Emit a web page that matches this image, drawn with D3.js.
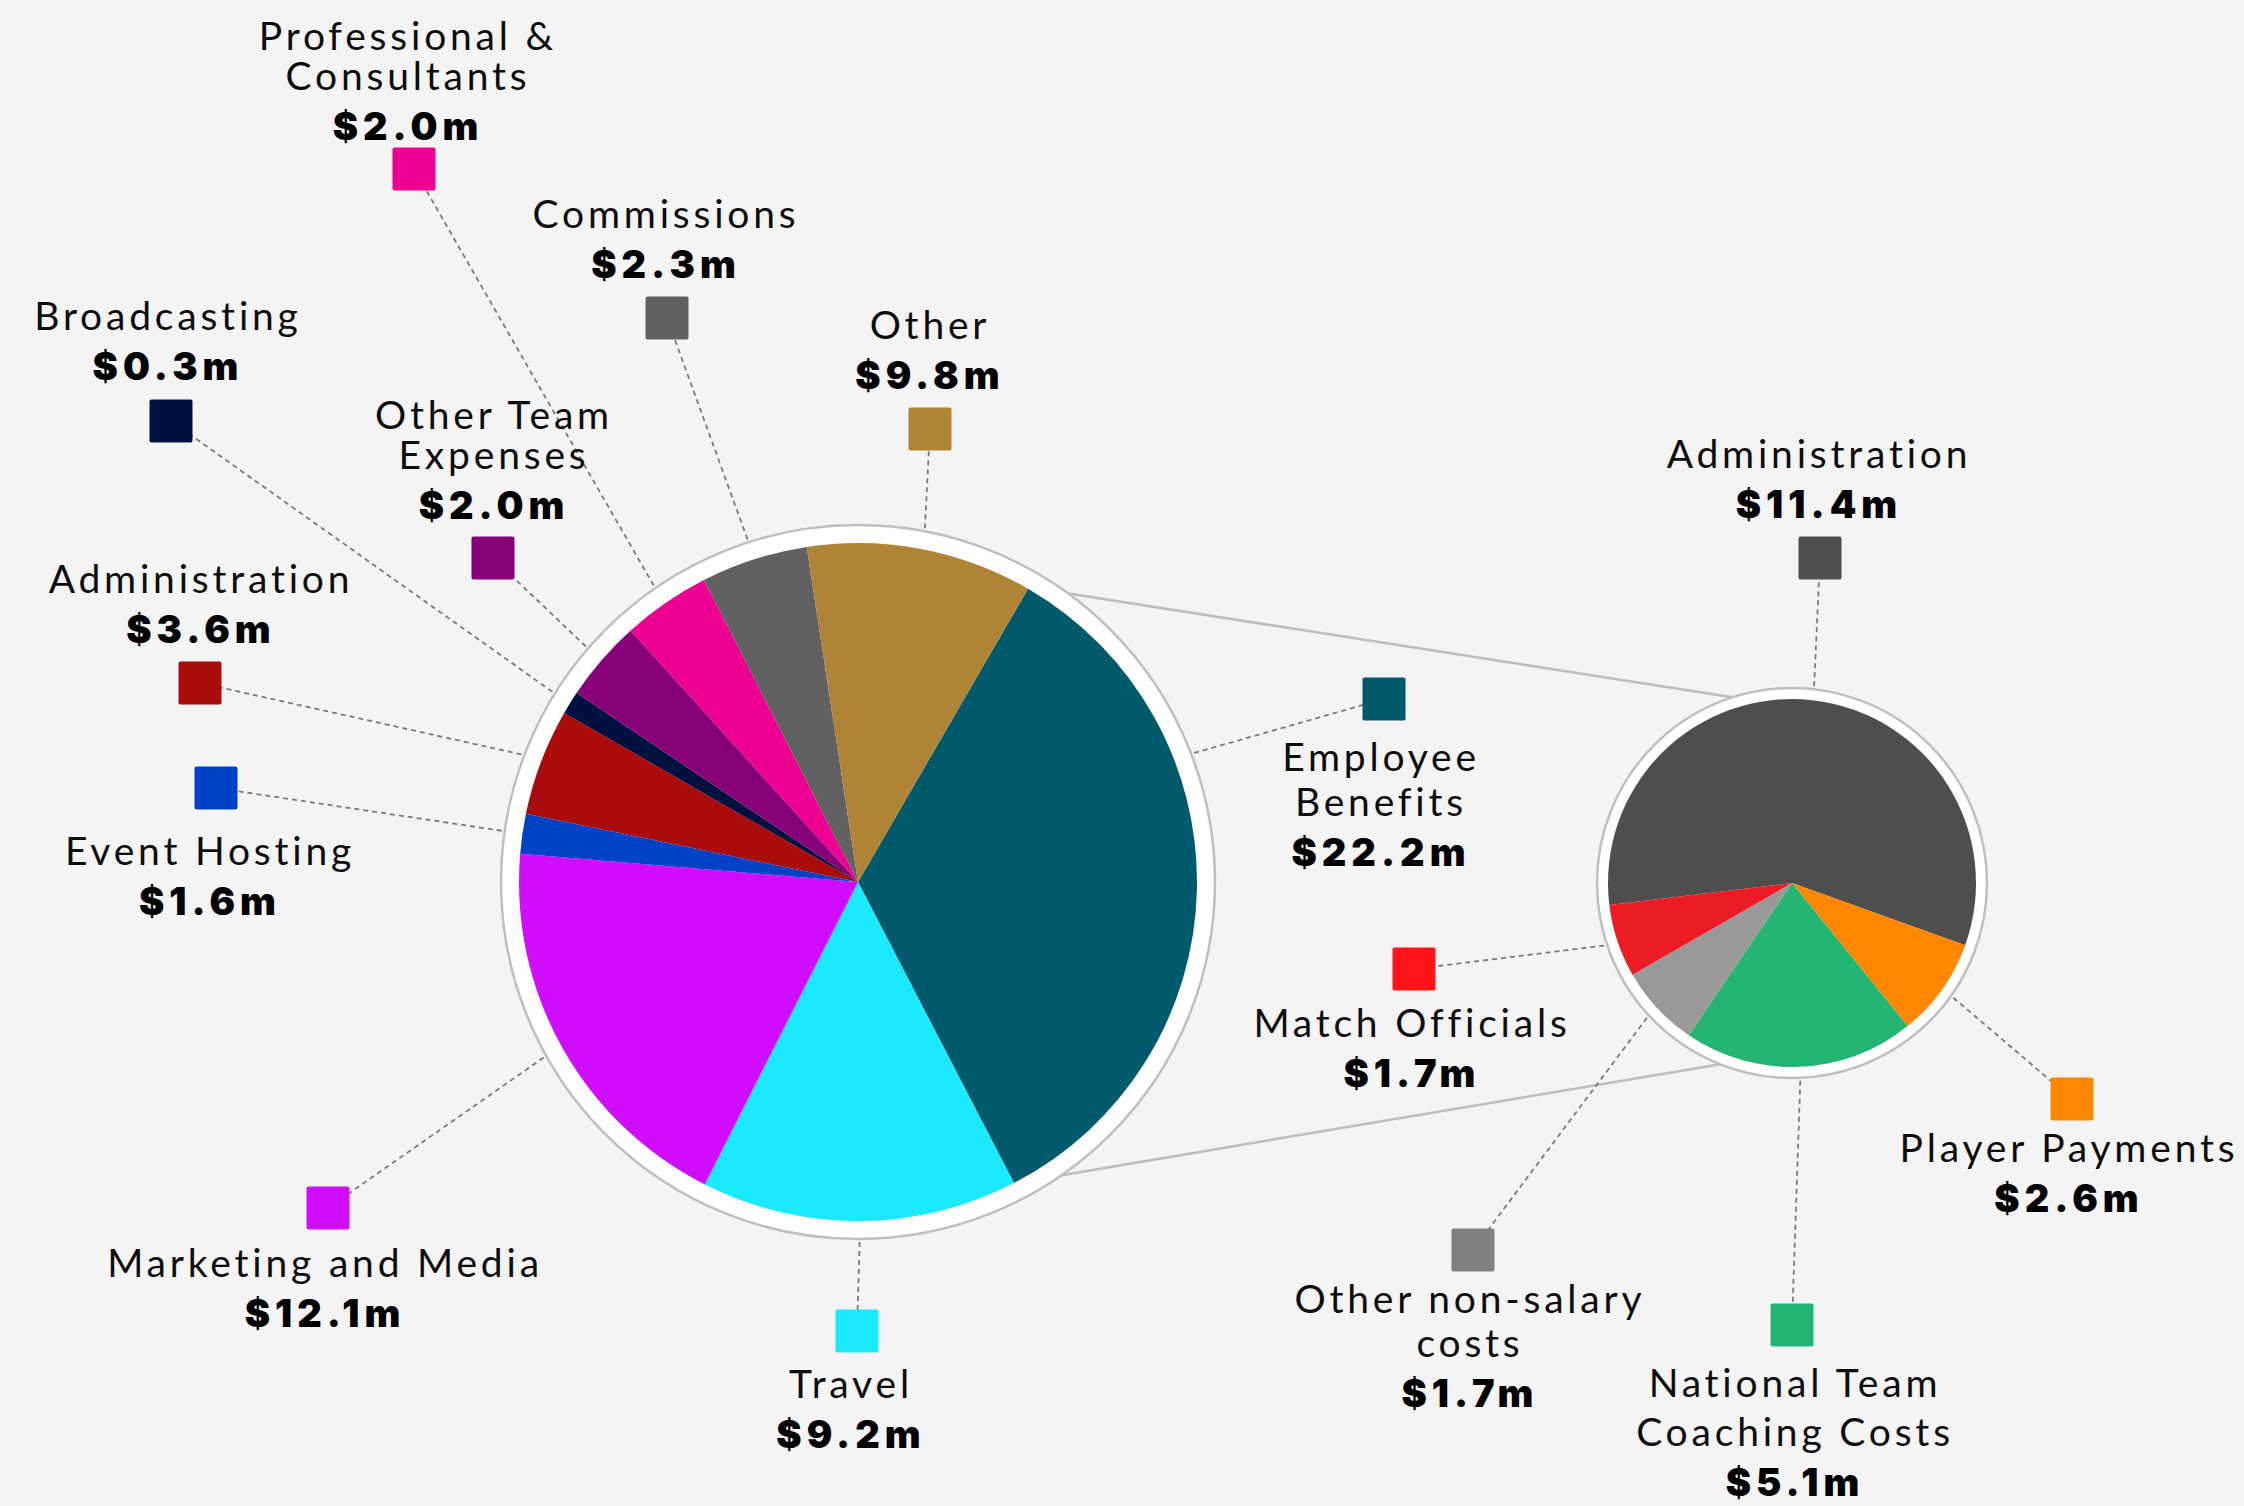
<!DOCTYPE html>
<html>
<head>
<meta charset="utf-8">
<title>Expenditure breakdown</title>
<script src="https://cdn.jsdelivr.net/npm/d3@7"></script>
<style>
    body { margin: 0; background: #f4f4f4; }
    svg { display: block; }
    .name { font-family: Lato, 'Open Sans', sans-serif; font-size: 39px; letter-spacing: 3.8px; fill: #0d0d0d; }
    .amount { font-family: Inter, Lato, sans-serif; font-weight: 900; font-size: 38px; letter-spacing: 5px; fill: #000; }
</style>
</head>
<body>
<svg id="chart" width="2244" height="1506"></svg>
<script>
// Main pie, clockwise from the Employee Benefits slice
const mainCategories = ['Employee Benefits', 'Travel', 'Marketing and Media', 'Event Hosting', 'Administration',
    'Broadcasting', 'Other Team Expenses', 'Professional & Consultants', 'Commissions', 'Other'];
const mainAmounts = [22.2, 9.2, 12.1, 1.6, 3.6, 0.3, 2.0, 2.0, 2.3, 9.8];
// share of the circle (%) each slice takes, as drawn in the original
const mainShares = [34.1, 15.1, 18.9, 1.9, 5.1, 1.1, 3.9, 4.2, 5.1, 10.8];

// Breakdown pie, clockwise from Administration
const detailCategories = ['Administration', 'Player Payments', 'National Team Coaching Costs',
    'Other non-salary costs', 'Match Officials'];
const detailAmounts = [11.4, 2.6, 5.1, 1.7, 1.7];
const detailShares = [57.4, 8.7, 20.3, 7.2, 6.4];

// Colours
const mainColours = ['#015a6b', '#1ae9fe', '#d10dfe', '#0042c6', '#aa0b0b', '#001140', '#880077', '#ed0091', '#616161', '#b08437'];
const detailColours = ['#4e4e4e', '#ff8800', '#24b574', '#999999', '#ec1c24'];
const detailSwatchColours = ['#4e4e4e', '#ff8800', '#24b574', '#808080', '#ff1418'];

// Label placement: text centre x, first baseline y, line height, swatch centre, words on first line
const mainLayout = [
    { x: 1381, y: 771, lh: 45, br: 1, sx: 1384, sy: 699, angle: 69 },
    { x: 851, y: 1398, sx: 857, sy: 1331 },
    { x: 325, y: 1277, sx: 328, sy: 1208 },
    { x: 210, y: 865, sx: 216, sy: 788 },
    { x: 201, y: 593, sx: 200, sy: 683 },
    { x: 168, y: 330, sx: 171, sy: 421 },
    { x: 494, y: 429, lh: 40, br: 2, sx: 493, sy: 558 },
    { x: 408, y: 50, lh: 40, br: 2, sx: 414, sy: 169 },
    { x: 666, y: 228, sx: 667, sy: 318 },
    { x: 930, y: 339, sx: 930, sy: 429 },
];
const detailLayout = [
    { x: 1819, y: 468, sx: 1820, sy: 558 },
    { x: 2069, y: 1162, sx: 2072, sy: 1099 },
    { x: 1795, y: 1397, lh: 49, br: 2, sx: 1792, sy: 1325 },
    { x: 1470, y: 1313, lh: 44, br: 2, sx: 1473, sy: 1250 },
    { x: 1412, y: 1037, sx: 1414, sy: 969 },
];

// Where the grey connectors leave each ring (degrees clockwise from 12 o'clock)
const connectorAngles = [[36.1, -17.8], [145.2, 201.6]];

const rad = deg => deg * Math.PI / 180;

class ExpenseBreakdown {

    constructor() {
        this.svg = d3.select('#chart');

        // Pie geometry
        this.main = { cx: 858, cy: 882, r: 339, ring: 357, start: rad(30.1) };
        this.detail = { cx: 1792, cy: 883, r: 184, ring: 195, start: rad(-96.9) };

        this.amountFormat = v => `$${d3.format('.1f')(v)}m`;

        this.drawConnectors();

        const mainSlices = this.slices(this.main, mainShares);
        const detailSlices = this.slices(this.detail, detailShares);

        this.drawLeaders(this.main, mainSlices, mainLayout);
        this.drawLeaders(this.detail, detailSlices, detailLayout);

        this.drawPie(this.main, mainSlices, mainColours);
        this.drawPie(this.detail, detailSlices, detailColours);

        this.drawLabels(mainCategories, mainAmounts, mainLayout, mainColours);
        this.drawLabels(detailCategories, detailAmounts, detailLayout, detailSwatchColours);
    }

    slices(pie, shares) {
        return d3.pie()
            .sort(null)
            .startAngle(pie.start)
            .endAngle(pie.start + 2 * Math.PI)(shares);
    }

    point(pie, radius, angle) {
        return [pie.cx + radius * Math.sin(angle), pie.cy - radius * Math.cos(angle)];
    }

    drawConnectors() {
        const g = this.svg.append('g');
        connectorAngles.forEach(([a, b]) => {
            const p = this.point(this.main, this.main.ring, rad(a));
            const q = this.point(this.detail, this.detail.ring, rad(b));
            g.append('line')
                .attr('x1', p[0]).attr('y1', p[1])
                .attr('x2', q[0]).attr('y2', q[1])
                .attr('stroke', '#bdbdbd')
                .attr('stroke-width', 2.5);
        });
    }

    drawLeaders(pie, slices, layout) {
        const edge = d3.arc().innerRadius(pie.ring + 3).outerRadius(pie.ring + 3);
        this.svg.append('g')
            .selectAll('line')
            .data(slices)
            .join('line')
            .each(function (d, i) {
                const pos = layout[i];
                let [x, y] = edge.centroid(d);
                if (pos.angle !== undefined) {
                    x = (pie.ring + 3) * Math.sin(rad(pos.angle));
                    y = -(pie.ring + 3) * Math.cos(rad(pos.angle));
                }
                d3.select(this)
                    .attr('x1', pie.cx + x).attr('y1', pie.cy + y)
                    .attr('x2', pos.sx).attr('y2', pos.sy);
            })
            .attr('stroke', '#7a7a7a')
            .attr('stroke-width', 1.8)
            .attr('stroke-dasharray', '5,4');
    }

    drawPie(pie, slices, colours) {
        const g = this.svg.append('g')
            .attr('transform', `translate(${pie.cx},${pie.cy})`);

        g.append('circle')
            .attr('r', pie.ring)
            .attr('fill', '#fff')
            .attr('stroke', '#bfbfbf')
            .attr('stroke-width', 2.5);

        const arc = d3.arc().innerRadius(0).outerRadius(pie.r);
        g.selectAll('path')
            .data(slices)
            .join('path')
            .attr('d', arc)
            .attr('fill', (d, i) => colours[i]);
    }

    drawLabels(names, amounts, layout, colours) {
        const g = this.svg.append('g');
        const size = 43;

        names.forEach((name, i) => {
            const pos = layout[i];

            // Swatch
            g.append('rect')
                .attr('x', pos.sx - size / 2)
                .attr('y', pos.sy - size / 2)
                .attr('width', size)
                .attr('height', size)
                .attr('rx', 2)
                .attr('fill', colours[i]);

            // Name, wrapped where the original wraps
            const words = name.split(' ');
            const lines = pos.br ? [words.slice(0, pos.br).join(' '), words.slice(pos.br).join(' ')] : [name];
            lines.forEach((line, j) => {
                g.append('text')
                    .attr('class', 'name')
                    .attr('x', pos.x)
                    .attr('y', pos.y + j * (pos.lh || 0))
                    .attr('text-anchor', 'middle')
                    .text(line);
            });

            // Amount
            g.append('text')
                .attr('class', 'amount')
                .attr('x', pos.x)
                .attr('y', pos.y + (lines.length - 1) * (pos.lh || 0) + 50)
                .attr('text-anchor', 'middle')
                .text(this.amountFormat(amounts[i]));
        });
    }

}

new ExpenseBreakdown();
</script>
</body>
</html>
